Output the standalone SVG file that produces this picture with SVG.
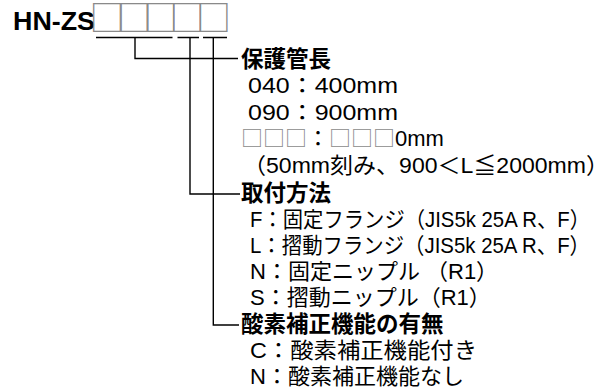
<svg xmlns="http://www.w3.org/2000/svg" width="615" height="392" viewBox="0 0 615 392">
<style>
.t{font-family:"Liberation Sans","Noto Sans CJK JP",sans-serif;fill:#000}
.h{font-size:22.5px;font-weight:bold}
.s{font-size:22px}
.box{fill:#8a8a8a;font-family:"Noto Sans CJK JP",sans-serif;font-weight:normal}
.ln{fill:none;stroke:#000;stroke-width:1.4}
</style>
<rect width="615" height="392" fill="#fff"/>
<g id="model">
<text class="t" x="13" y="29.5" font-size="25" font-weight="bold" textLength="82" lengthAdjust="spacingAndGlyphs">HN-ZS</text>
<text class="box" font-size="35" y="31" x="89.5 117 143 169.5 196">□□□□□</text>
</g>
<g id="connectors">
<path class="ln" d="M96 37.5H172.5M177.5 37.5H199M203 37.5H227"/>
<path class="ln" d="M135 37.5V58.5H238"/>
<path class="ln" d="M190 37.5V194H240"/>
<path class="ln" d="M213.3 37.5V325H239"/>
</g>
<g id="length">
<text class="t h" x="241" y="67">保護管長</text>
<text class="t s" x="248" y="93" textLength="150" lengthAdjust="spacingAndGlyphs">040：400mm</text>
<text class="t s" x="248" y="119.5" textLength="150" lengthAdjust="spacingAndGlyphs">090：900mm</text>
<text class="t s" x="241" y="146"><tspan class="box">□□□</tspan>：<tspan class="box">□□□</tspan>0mm</text>
<text class="t s" x="243" y="172.5" textLength="366" lengthAdjust="spacingAndGlyphs">（50mm刻み、900＜L≦2000mm）</text>
</g>
<g id="mounting">
<text class="t h" x="241" y="201">取付方法</text>
<text class="t s" x="250" y="226.5" textLength="340" lengthAdjust="spacingAndGlyphs">F：固定フランジ（JIS5k 25A R、F）</text>
<text class="t s" x="250" y="252.5" textLength="340" lengthAdjust="spacingAndGlyphs">L：摺動フランジ（JIS5k 25A R、F）</text>
<text class="t s" x="250" y="278.5">N：固定ニップル （R1）</text>
<text class="t s" x="250" y="304.5">S：摺動ニップル（R1）</text>
</g>
<g id="oxygen">
<text class="t h" x="241" y="332">酸素補正機能の有無</text>
<text class="t s" x="250" y="358" textLength="227" lengthAdjust="spacingAndGlyphs">C：酸素補正機能付き</text>
<text class="t s" x="250" y="384">N：酸素補正機能なし</text>
</g>
</svg>
